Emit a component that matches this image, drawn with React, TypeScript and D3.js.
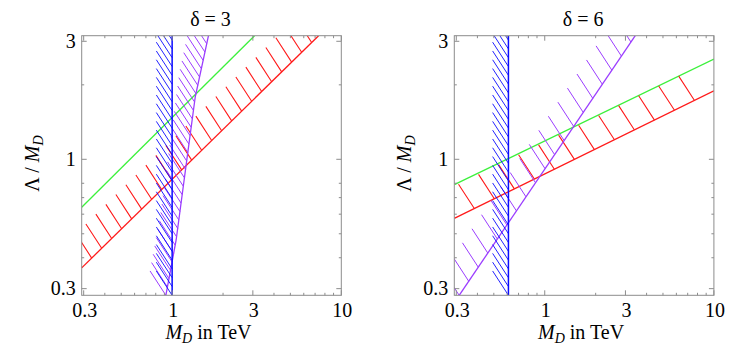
import React from 'react';
import * as d3 from 'd3';

// axes
const xDomain = [0.292, 10];
const yDomain = [0.282, 3.16];
const xMajor = [0.3, 1, 3, 10];
const xMinor = [0.4, 0.5, 0.6, 0.7, 0.8, 0.9, 2, 4, 5, 6, 7, 8, 9];
const yMajor = [0.3, 1, 3];
const yMinor = [0.4, 0.5, 0.6, 0.7, 0.8, 2];
const titles = ['δ = 3', 'δ = 6'];

// δ = 3 panel
const greenD3: [number, number][] = [[0.292, 0.64], [3.07, 3.16]];
const redD3: [number, number][] = [[0.292, 0.364], [7.34, 3.16]];
const purpleD3: [number, number][] = [[0.918, 0.282], [1.056, 0.472], [1.22, 0.99], [1.37, 1.79], [1.64, 3.16]];
const blueD3 = 1.0;

// δ = 6 panel
const greenD6: [number, number][] = [[0.292, 0.79], [10, 2.54]];
const redD6: [number, number][] = [[0.292, 0.577], [10, 1.89]];
const purpleD6: [number, number][] = [[0.312, 0.282], [3.43, 3.16]];
const blueD6 = 0.61;

const panels = [
  { title: titles[0], green: greenD3, red: redD3, purple: purpleD3, blue: blueD3, redGap: 14, purpleGap: 8.5 },
  { title: titles[1], green: greenD6, red: redD6, purple: purpleD6, blue: blueD6, redGap: 22.3, purpleGap: 17 },
];

const lefts = [81.7, 454.3];
const top = 35.7;
const size = 259.6;
const hatchLen = 29;
const hx = -Math.cos((57 * Math.PI) / 180);
const hy = -Math.sin((57 * Math.PI) / 180);
const font = 'Liberation Serif';

const COLORS = { green: '#3cf03c', red: '#ff1a1a', purple: '#9b3dff', blue: '#0a0aff', frame: '#8c8c8c' };

// short strokes along a polyline (pixel space), all pointing up-left
function hatches(pts: [number, number][], gap: number) {
  const out: number[][] = [];
  let carry = 0;
  for (let i = 0; i < pts.length - 1; i++) {
    const [x0, y0] = pts[i], [x1, y1] = pts[i + 1];
    const L = Math.hypot(x1 - x0, y1 - y0);
    let t = carry;
    while (t <= L) {
      const px = x0 + ((x1 - x0) * t) / L, py = y0 + ((y1 - y0) * t) / L;
      out.push([px, py, px + hx * hatchLen, py + hy * hatchLen]);
      t += gap;
    }
    carry = t - L;
  }
  return out;
}

const Panel = ({ idx }: { idx: number }) => {
  const p = panels[idx];
  const x0 = lefts[idx];
  const x = d3.scaleLog().domain(xDomain).range([x0, x0 + size]);
  const y = d3.scaleLog().domain(yDomain).range([top + size, top]);
  const line = d3.line<[number, number]>().x(d => x(d[0])).y(d => y(d[1]));
  const px = (arr: [number, number][]) => arr.map(d => [x(d[0]), y(d[1])] as [number, number]);
  const blueLine: [number, number][] = [[p.blue, yDomain[0]], [p.blue, yDomain[1]]];
  const clip = `clip${idx}`;

  const hatchPath = (segs: number[][]) => segs.map(s => `M${s[0]},${s[1]}L${s[2]},${s[3]}`).join('');

  const tickLen = (major: boolean) => (major ? 5 : 2.5);
  const cx = x0 + size / 2;
  const ylx = x0 - 43, yly = top + size / 2 - 2;

  return (
    <g>
      <defs>
        <clipPath id={clip}>
          <rect x={x0} y={top} width={size} height={size} />
        </clipPath>
      </defs>
      <g clipPath={`url(#${clip})`} fill="none">
        <path d={line(p.green) || ''} stroke={COLORS.green} strokeWidth={1.3} />
        <path d={hatchPath(hatches(px(p.red), p.redGap))} stroke={COLORS.red} strokeWidth={1.1} />
        <path d={line(p.red) || ''} stroke={COLORS.red} strokeWidth={1.3} />
        <path d={hatchPath(hatches(px(p.purple), p.purpleGap))} stroke={COLORS.purple} strokeWidth={1} />
        <path d={line(p.purple) || ''} stroke={COLORS.purple} strokeWidth={1.3} />
        <path d={hatchPath(hatches(px(blueLine), 8.8))} stroke={COLORS.blue} strokeWidth={0.9} />
        <path d={line(blueLine) || ''} stroke={COLORS.blue} strokeWidth={1.5} />
      </g>
      <rect x={x0} y={top} width={size} height={size} fill="none" stroke={COLORS.frame} strokeWidth={1} />
      <g stroke={COLORS.frame} strokeWidth={1}>
        {[...xMajor.map(v => [v, true] as const), ...xMinor.map(v => [v, false] as const)].map(([v, m]) => (
          <g key={'x' + v}>
            <line x1={x(v)} x2={x(v)} y1={top + size} y2={top + size - tickLen(m)} />
            <line x1={x(v)} x2={x(v)} y1={top} y2={top + tickLen(m)} />
          </g>
        ))}
        {[...yMajor.map(v => [v, true] as const), ...yMinor.map(v => [v, false] as const)].map(([v, m]) => (
          <g key={'y' + v}>
            <line x1={x0} x2={x0 + tickLen(m)} y1={y(v)} y2={y(v)} />
            <line x1={x0 + size} x2={x0 + size - tickLen(m)} y1={y(v)} y2={y(v)} />
          </g>
        ))}
      </g>
      <g fill="#000" fontFamily={font} fontSize={20}>
        {xMajor.map(v => (
          <text key={'xl' + v} textAnchor="middle" x={x(v) + 1} y={317}>
            {v}
          </text>
        ))}
        {yMajor.map(v => (
          <text key={'yl' + v} textAnchor="end" x={x0 - 6} y={Math.max(y(v), 40) + 6.5}>
            {v}
          </text>
        ))}
        <text textAnchor="middle" x={cx - 1} y={25.5}>
          {p.title}
        </text>
        <text textAnchor="middle" x={cx - 3} y={339}>
          <tspan fontStyle="italic">M</tspan>
          <tspan fontStyle="italic" fontSize={14} dy={4}>D</tspan>
          <tspan dy={-4}> in TeV</tspan>
        </text>
        <text textAnchor="middle" x={ylx} y={yly} transform={`rotate(-90 ${ylx} ${yly})`}>
          <tspan>Λ / </tspan>
          <tspan fontStyle="italic">M</tspan>
          <tspan fontStyle="italic" fontSize={14} dy={4}>D</tspan>
        </text>
      </g>
    </g>
  );
};

export default function App() {
  return (
    <svg width={748} height={356} style={{ position: 'absolute', left: 0, top: 0, background: '#fff' }}>
      <Panel idx={0} />
      <Panel idx={1} />
    </svg>
  );
}
